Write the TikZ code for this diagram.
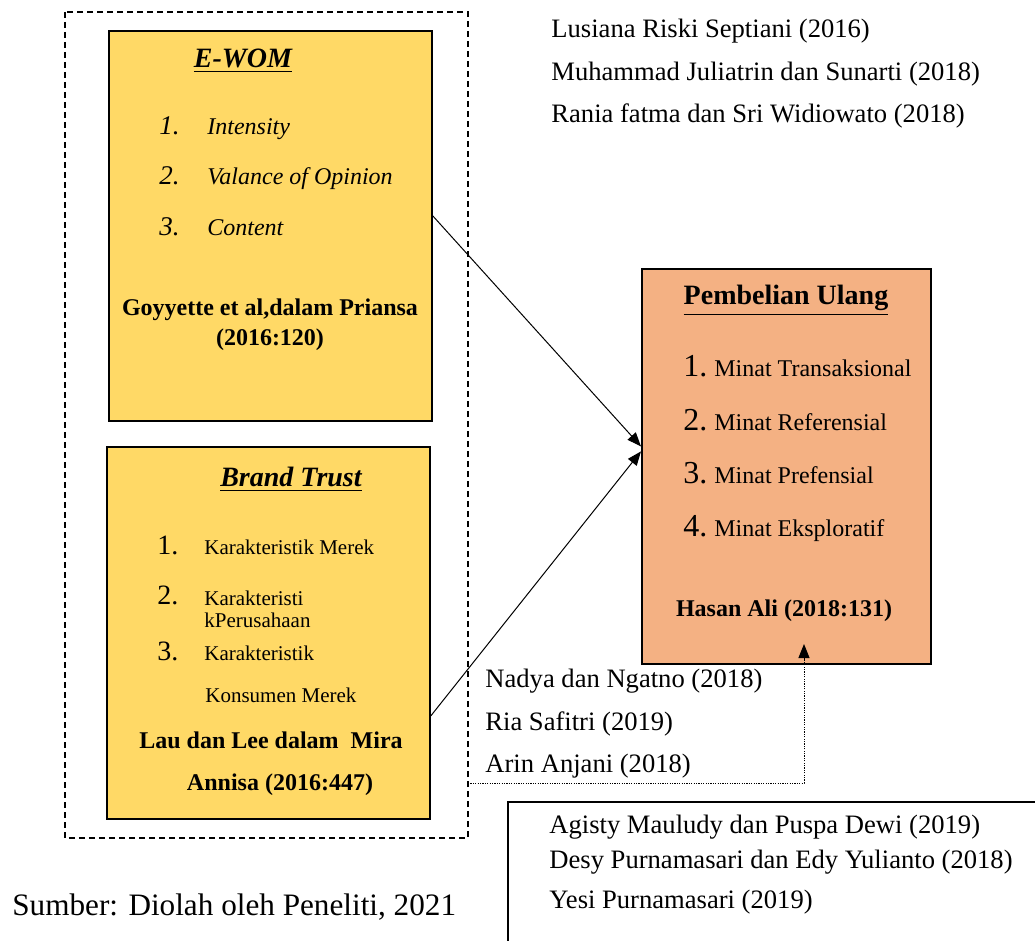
\documentclass[tikz,border=0pt]{standalone}
\usepackage{fontspec}
\setmainfont{Liberation Serif}
\usetikzlibrary{positioning,calc,arrows.meta}
\definecolor{boxgold}{RGB}{255,217,102}
\definecolor{boxpeach}{RGB}{244,177,131}
\newcommand*{\fs}[1]{\fontsize{#1}{#1}\selectfont}

\begin{document}
\begin{tikzpicture}[x=0.5pt,y=-0.5pt,
  varbox/.style={draw,line width=0.9pt,anchor=north west,inner sep=0pt},
  txt/.style={anchor=base west,inner sep=0pt,font=\fs{13.3}},
  ctr/.style={anchor=base,inner sep=0pt,font=\fs{12}\bfseries},
  num/.style={anchor=base west,inner sep=0pt},
  link/.style={line width=0.5pt,-{Triangle[length=7pt,width=5.5pt]}}]
\useasboundingbox (0,0) rectangle (1035,941);
% Outer dashed frame round the two independent variables
\draw[line width=1pt,dash pattern=on 3pt off 2pt] (65,12) rectangle (468,838);
% Variable boxes
\node[varbox,fill=boxgold,minimum width=161.5pt,minimum height=195pt] (ewom) at (108,30) {};
\node[varbox,fill=boxgold,minimum width=161.5pt,minimum height=186pt] (trust) at (106,446) {};
\node[varbox,fill=boxpeach,minimum width=144.5pt,minimum height=197.5pt] (ulang) at (641,268) {};
%% E-WOM contents
\node[ctr,font=\fs{14}\bfseries\itshape] (ewomtitle) at (243,68) {\underline{E-WOM}};
\node[num,font=\fs{13.5}\itshape] (en1) at (159,135) {1.};
\node[num,font=\fs{13.5}\itshape] (en2) at (159,185) {2.};
\node[num,font=\fs{13.5}\itshape] (en3) at (159,236) {3.};
\node[num,font=\fs{12}\itshape] (ei1) at (207,135) {Intensity};
\node[num,font=\fs{12}\itshape] (ei2) at (207,185) {Valance of Opinion};
\node[num,font=\fs{12}\itshape] (ei3) at (207,236) {Content};
\node[ctr] (ewomsrc) at (270,316) {Goyyette et al,dalam Priansa};
\node[ctr] (ewomyear) at (270,346) {(2016:120)};
%% Brand Trust contents
\node[ctr,font=\fs{14}\bfseries\itshape] (trusttitle) at (291,487) {\underline{Brand Trust}};
\node[num,font=\fs{14}] (tn1) at (157,554) {1.};
\node[num,font=\fs{14}] (tn2) at (157,604) {2.};
\node[num,font=\fs{14}] (tn3) at (157,661) {3.};
\node[num,font=\fs{10.5}] (ti1) at (204,554) {Karakteristik Merek};
\node[num,font=\fs{10.5}] (ti2a) at (204,605) {Karakteristi};
\node[num,font=\fs{10.5}] (ti2b) at (204,627) {kPerusahaan};
\node[num,font=\fs{10.5}] (ti3a) at (204,661) {Karakteristik};
\node[num,font=\fs{10.5}] (ti3b) at (205,702) {Konsumen Merek};
\node[ctr] (trustsrc) at (271,748) {Lau dan Lee dalam\ \ Mira};
\node[ctr] (trustyear) at (280,790) {Annisa (2016:447)};
%% Pembelian Ulang contents
\node[ctr,font=\fs{14}\bfseries] (ulangtitle) at (786,305) {\underline{Pembelian Ulang}};
\foreach \i/\t/\y in {1/Minat Transaksional/377,2/Minat Referensial/431,
                      3/Minat Prefensial/484,4/Minat Eksploratif/537} {
  \node[num,font=\fs{16}] (un\i) at (683,\y) {\i.};
  \node[num,font=\fs{12}] (ui\i) at (714,\y) {\t};
}
\node[ctr] (ulangsrc) at (784,617) {Hasan Ali (2018:131)};
%% Arrows into the dependent variable
\draw[link] ([yshift=5pt]ewom.east) -- ([yshift=10pt]ulang.west);
\draw[link] ([yshift=-41.5pt]trust.east) -- ([yshift=7.5pt]ulang.west);
\coordinate (dotstart) at (468,783);
\coordinate (dotturn) at (804,783);
\coordinate (dotend) at (804,644);
\draw[link,dash pattern=on 0.6pt off 0.6pt] (dotstart) -- (dotturn) -- (dotend);
%% References
\node[txt] (ref1) at (551,38) {Lusiana Riski Septiani (2016)};
\node[txt] (ref2) at (551,81) {Muhammad Juliatrin dan Sunarti (2018)};
\node[txt] (ref3) at (551,123) {Rania fatma dan Sri Widiowato (2018)};
\node[txt] (ref4) at (485,688) {Nadya dan Ngatno (2018)};
\node[txt] (ref5) at (485,730) {Ria Safitri (2019)};
\node[txt] (ref6) at (485,772) {Arin Anjani (2018)};
% Bottom right box runs past the page edge
\draw[line width=0.9pt] (1035,802) coordinate (brtop) -- (508,802) -- (508,941);
\node[txt] (ref7) at (549,833) {Agisty Mauludy dan Puspa Dewi (2019)};
\node[txt] (ref8) at (549,868) {Desy Purnamasari dan Edy Yulianto (2018)};
\node[txt] (ref9) at (549,908) {Yesi Purnamasari (2019)};
\node[txt,font=\fs{15.6}] (source) at (12,915) {Sumber: Diolah oleh Peneliti, 2021};
\end{tikzpicture}
\end{document}
